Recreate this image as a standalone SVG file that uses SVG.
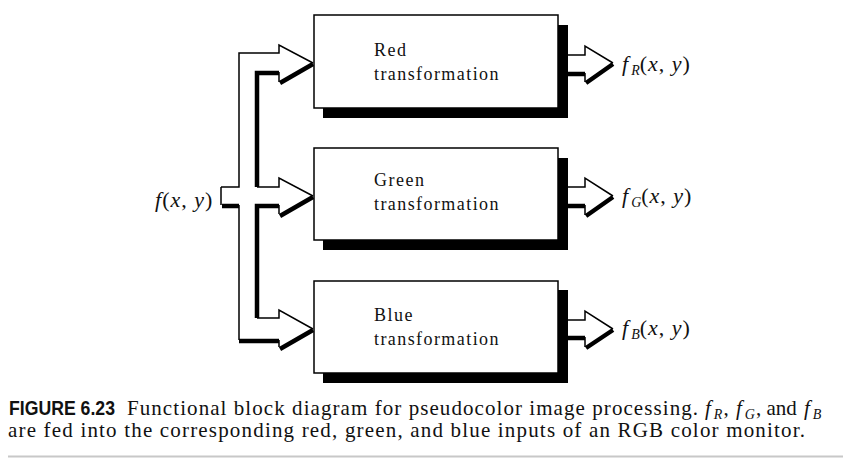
<svg xmlns="http://www.w3.org/2000/svg" width="856" height="464" viewBox="0 0 856 464">
<style>
.thin{fill:none;stroke:#000;stroke-width:1.5;stroke-linejoin:miter}
.thick{fill:none;stroke:#000;stroke-width:4.5;stroke-linecap:butt;stroke-linejoin:miter}
.box{fill:#fff;stroke:#000;stroke-width:1.5}
.shadow{fill:#000}
text{font-family:'Liberation Serif','Times New Roman',Times,serif;fill:#111}
.lbl{font-size:18px;letter-spacing:1.5px}
.math{font-size:22px;letter-spacing:1px}
.it{font-style:italic}
.sub{font-size:14px;font-style:italic;letter-spacing:0}
.cap{font-size:21px}
.fig{font-family:'Liberation Sans',Arial,sans-serif;font-weight:bold;font-size:21px}
</style>
<rect width="856" height="464" fill="#fff"/>

<g id="connectors">
  <path class="thin" d="M221,187 H239 V53 H279 V45 L313,63 M221,187 V205 M257,187 H279 V178 L313,196 M239,205 V340 M257,318 H279 V310 L313,329 M279,72 V82 M279,205 V214 M279,340 V347"/>
  <path class="thick" d="M279,73 H257 V187 M222,206 H239 M257,318 V206 H279 M239,341 H279 M280,83 L313,64 M280,216 L313,197 M280,349 L313,330"/>
  <path class="thin" d="M568,55 H585 V46 L613,63 M585,73 V82 M568,187 H585 V178 L613,196 M585,205 V215 M568,320 H585 V311 L613,329 M585,337 V347"/>
  <path class="thick" d="M568,74 H585 M586,83 L613,64 M568,206 H585 M586,216 L613,197 M568,338 H585 M586,348 L613,330"/>
</g>

<g id="red">
  <polygon class="shadow" points="558,25 568,25 568,118 323,118 323,108 558,108"/>
  <rect class="box" x="314" y="15" width="244" height="93"/>
  <text class="lbl" x="374" y="56">Red</text>
  <text class="lbl" x="374" y="80" textLength="126">transformation</text>
</g>
<g id="green">
  <polygon class="shadow" points="558,158 568,158 568,250 323,250 323,240 558,240"/>
  <rect class="box" x="314" y="148" width="244" height="92"/>
  <text class="lbl" x="374" y="186">Green</text>
  <text class="lbl" x="374" y="210" textLength="126">transformation</text>
</g>
<g id="blue">
  <polygon class="shadow" points="558,290 568,290 568,383 323,383 323,373 558,373"/>
  <rect class="box" x="314" y="281" width="244" height="92"/>
  <text class="lbl" x="374" y="321">Blue</text>
  <text class="lbl" x="374" y="345" textLength="126">transformation</text>
</g>

<g id="input">
  <text class="math" x="155" y="207"><tspan class="it">f</tspan>(<tspan class="it">x</tspan>, <tspan class="it">y</tspan>)</text>
</g>
<g id="out-r">
  <text class="math" x="622" y="71"><tspan class="it">f</tspan><tspan class="sub" dx="2" dy="4">R</tspan><tspan dy="-4">(</tspan><tspan class="it">x</tspan>, <tspan class="it">y</tspan>)</text>
</g>
<g id="out-g">
  <text class="math" x="622" y="203"><tspan class="it">f</tspan><tspan class="sub" dx="2" dy="4">G</tspan><tspan dy="-4">(</tspan><tspan class="it">x</tspan>, <tspan class="it">y</tspan>)</text>
</g>
<g id="out-b">
  <text class="math" x="622" y="335"><tspan class="it">f</tspan><tspan class="sub" dx="2" dy="4">B</tspan><tspan dy="-4">(</tspan><tspan class="it">x</tspan>, <tspan class="it">y</tspan>)</text>
</g>

<g id="caption">
  <text class="fig" x="9" y="415" textLength="106" lengthAdjust="spacingAndGlyphs">FIGURE 6.23</text>
  <text class="cap" x="127" y="415" textLength="571" lengthAdjust="spacing">Functional block diagram for pseudocolor image processing.</text>
  <text class="cap" x="705" y="415"><tspan class="it">f</tspan><tspan class="sub" dx="3" dy="4">R</tspan><tspan dx="1" dy="-4">,</tspan></text>
  <text class="cap" x="736" y="415"><tspan class="it">f</tspan><tspan class="sub" dx="3" dy="4">G</tspan><tspan dx="1" dy="-4">, and</tspan></text>
  <text class="cap" x="804" y="415"><tspan class="it">f</tspan><tspan class="sub" dx="3" dy="4">B</tspan></text>
  <text class="cap" x="8" y="437" textLength="797" lengthAdjust="spacing">are fed into the corresponding red, green, and blue inputs of an RGB color monitor.</text>
  <line x1="8" y1="456.5" x2="843" y2="456.5" stroke="#c8c8c8" stroke-width="2"/>
</g>
</svg>
